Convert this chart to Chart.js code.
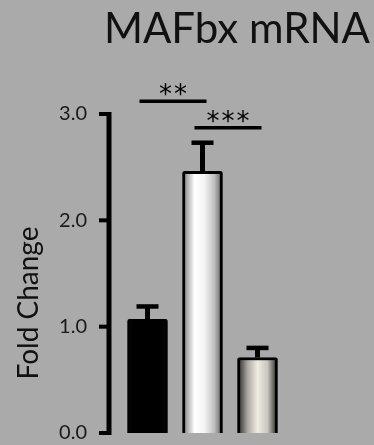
<!DOCTYPE html>
<html>
<head>
<meta charset="utf-8">
<script src="https://cdn.jsdelivr.net/npm/chart.js@4"></script>
<style>
  html, body { margin: 0; padding: 0; background: #aaaaaa; }
  #wrap { position: relative; width: 374px; height: 445px; }
</style>
</head>
<body>
<div id="wrap"><canvas id="chart"></canvas></div>
<script>
const chartTitle = 'MAFbx mRNA';
const axisTitle = 'Fold Change';
const categories = ['Group 1', 'Group 2', 'Group 3'];
const foldChange = [1.07, 2.46, 0.71];
const errorSem = [0.12, 0.27, 0.09];
const yTicks = [0, 1, 2, 3];
const sigPairs = [[0, 1], [1, 2]];
const sigLabels = ['**', '***'];
const sigLevels = [3.12, 2.87];

function barFill(ctx) {
    const chart = ctx.chart;
    const i = ctx.dataIndex;
    if (!chart.chartArea) return '#000';
    if (i === 0) return '#000';
    const x = chart.scales.x.getPixelForValue(i);
    const g = chart.ctx.createLinearGradient(x - 20, 0, x + 20, 0);
    if (i === 1) {
        g.addColorStop(0, '#777');
        g.addColorStop(0.3, '#ffffff');
        g.addColorStop(0.55, '#f4f4f4');
        g.addColorStop(0.8, '#bdbdbd');
        g.addColorStop(1, '#555');
    } else {
        g.addColorStop(0, '#222');
        g.addColorStop(0.25, '#aaa79f');
        g.addColorStop(0.5, '#efede2');
        g.addColorStop(0.75, '#c9c7bd');
        g.addColorStop(1, '#222');
    }
    return g;
}

const decor = {
    id: 'decor',
    afterDraw(chart) {
        const c = chart.ctx;
        const xs = chart.scales.x;
        const ys = chart.scales.y;
        const axisX = chart.chartArea.left - 11;
        c.save();
        c.strokeStyle = '#000';
        c.fillStyle = '#000';

        // y axis line and ticks
        c.lineWidth = 5;
        c.beginPath();
        c.moveTo(axisX, ys.getPixelForValue(yTicks[yTicks.length - 1]) - 2);
        c.lineTo(axisX, ys.getPixelForValue(yTicks[0]) + 2);
        c.stroke();
        c.lineWidth = 4;
        yTicks.forEach(t => {
            const y = ys.getPixelForValue(t);
            c.beginPath();
            c.moveTo(axisX - 10, y);
            c.lineTo(axisX, y);
            c.stroke();
        });

        // error bars (upper only)
        foldChange.forEach((v, i) => {
            const x = xs.getPixelForValue(i);
            const yb = ys.getPixelForValue(v);
            const yt = ys.getPixelForValue(v + errorSem[i]);
            c.lineWidth = 5;
            c.beginPath();
            c.moveTo(x, yb);
            c.lineTo(x, yt);
            c.stroke();
            c.lineWidth = 4.5;
            c.beginPath();
            c.moveTo(x - 11, yt);
            c.lineTo(x + 11, yt);
            c.stroke();
        });

        // significance lines
        c.font = '26px "DejaVu Sans"';
        c.textAlign = 'center';
        c.textBaseline = 'alphabetic';
        sigPairs.forEach((p, k) => {
            const x1 = xs.getPixelForValue(p[0]) - 8;
            const x2 = xs.getPixelForValue(p[1]) + 4;
            const y = ys.getPixelForValue(sigLevels[k]);
            c.lineWidth = 3.5;
            c.beginPath();
            c.moveTo(x1, y);
            c.lineTo(x2, y);
            c.stroke();
            const n = sigLabels[k].length;
            const mid = (x1 + x2) / 2;
            for (let j = 0; j < n; j++) {
                c.fillText('*', mid + (j - (n - 1) / 2) * 15, y + 2);
            }
        });

        // chart title
        c.fillStyle = '#111';
        c.font = '42px Lato';
        c.textAlign = 'right';
        c.fillText(chartTitle, 370, 43);

        // y axis title
        c.font = '28px Lato';
        c.textAlign = 'center';
        c.textBaseline = 'middle';
        c.translate(29, 303);
        c.rotate(-Math.PI / 2);
        c.fillText(axisTitle, 0, 0);
        c.restore();
    }
};

new Chart(document.getElementById('chart'), {
    type: 'bar',
    data: {
        labels: categories,
        datasets: [{
            data: foldChange,
            backgroundColor: barFill,
            borderColor: '#000',
            borderWidth: 3,
            borderRadius: 2,
            barThickness: 40
        }]
    },
    options: {
        responsive: true,
        maintainAspectRatio: false,
        animation: false,
        layout: { padding: { left: 10, right: 89, top: 114, bottom: 12 } },
        plugins: {
            legend: { display: false },
            tooltip: { enabled: false }
        },
        scales: {
            x: { display: false },
            y: {
                min: 0,
                max: 3,
                afterFit(scale) {
                    scale.width = 110;
                    scale.paddingTop = 10;
                    scale.paddingBottom = 10;
                },
                grid: { display: false, drawTicks: false },
                border: { display: false },
                ticks: {
                    stepSize: 1,
                    padding: 33,
                    color: '#1a1a1a',
                    font: { family: 'Lato', size: 20 },
                    callback: v => v.toFixed(1)
                }
            }
        }
    },
    plugins: [decor]
});
</script>
</body>
</html>
